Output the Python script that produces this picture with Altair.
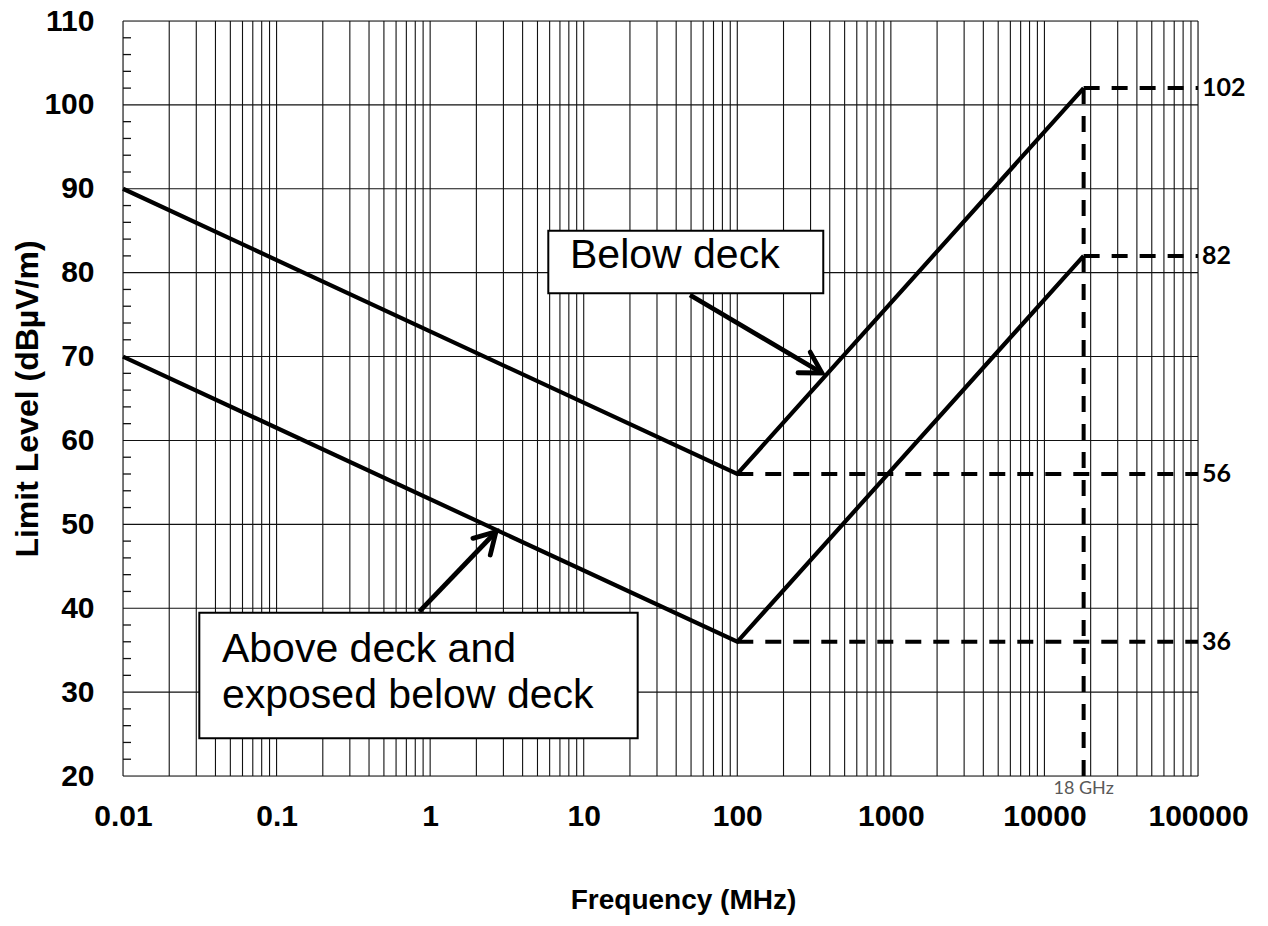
import altair as alt
import pandas as pd

# ---- data ----
freq_knots = [0.01, 100, 18000]
below_deck = [90, 56, 102]
above_deck = [70, 36, 82]

x_decades = [0.01, 0.1, 1, 10, 100, 1000, 10000, 100000]
x_grid = [round(m * 10 ** k, 6) for k in range(-2, 5) for m in range(1, 10)] + [100000]
y_major = [20, 30, 40, 50, 60, 70, 80, 90, 100, 110]
y_minor = [v for v in range(22, 110, 2) if v % 10 != 0]

right_levels = [102, 82, 56, 36]
right_start = [18000, 18000, 100, 100]
right_end = [100000, 100000, 100000, 100000]

vline_freq = [18000]
vline_lo = [20]
vline_hi = [102]

box_names = ["below", "above"]
box_f1 = [5.88, 0.0314]
box_f2 = [363.0, 22.46]
box_v1 = [85.0, 39.47]
box_v2 = [77.54, 24.49]

text_lines = ["Below deck", "Above deck and", "exposed below deck"]
text_f = [8.14, 0.0441, 0.0441]
text_v = [80.52, 33.63, 28.07]

arrow_f1 = [49.2, 0.850]
arrow_v1 = [77.34, 39.59]
arrow_f2 = [356.0, 2.684]
arrow_v2 = [68.04, 49.12]
arrow_ang = [120.6, 43.8]

# ---- tables ----
lines_df = pd.DataFrame({
    "f": freq_knots * 2,
    "v": below_deck + above_deck,
    "s": ["Below deck"] * 3 + ["Above deck"] * 3,
})
xgrid_df = pd.DataFrame({"f": x_grid})
ygrid_df = pd.DataFrame({"v": y_major})
yminor_df = pd.DataFrame({"v": y_minor})
hdash_df = pd.DataFrame({"f": right_start, "f2": right_end, "v": right_levels})
vdash_df = pd.DataFrame({"f": vline_freq, "v": vline_lo, "v2": vline_hi})
box_df = pd.DataFrame({"n": box_names, "f": box_f1, "f2": box_f2, "v": box_v1, "v2": box_v2})
text_df = pd.DataFrame({"t": text_lines, "f": text_f, "v": text_v})
arrow_df = pd.DataFrame({"f": arrow_f1, "v": arrow_v1, "f2": arrow_f2, "v2": arrow_v2, "ang": arrow_ang})
rlab_df = pd.DataFrame({"f": [x_decades[-1]] * 4, "v": right_levels, "t": [str(v) for v in right_levels]})
ghz_df = pd.DataFrame({"f": vline_freq, "v": [y_major[0]], "t": ["18 GHz"]})

xscale = alt.Scale(type="log", domain=[0.01, 100000], nice=False)
yscale = alt.Scale(domain=[20, 110], nice=False, zero=False)

FONT = "Liberation Sans"

xaxis = alt.Axis(
    values=x_decades, format="~g", grid=False, ticks=False, domain=False,
    labelFont=FONT, labelFontSize=30, labelFontWeight="bold", labelColor="black",
    labelPadding=25, labelFlush=False, labelOverlap=False,
    title="Frequency (MHz)", titleFont=FONT, titleFontSize=28, titleFontWeight="bold",
    titleColor="black", titleX=560, titleY=132, titleBaseline="alphabetic", titleAlign="center",
)
yaxis = alt.Axis(
    values=y_major, grid=False, ticks=False, domain=False,
    labelFont=FONT, labelFontSize=30, labelFontWeight="bold", labelColor="black",
    labelPadding=29, labelFlush=False, labelOverlap=False,
    title="Limit Level (dBµV/m)", titleFont=FONT, titleFontSize=32, titleFontWeight="bold",
    titleColor="black", titleX=-96, titleY=377.5, titleAngle=270,
    titleBaseline="middle", titleAlign="center",
)


def X(field="f"):
    return alt.X(field, type="quantitative", scale=xscale, axis=xaxis)


def Y(field="v"):
    return alt.Y(field, type="quantitative", scale=yscale, axis=yaxis)


vgrid = alt.Chart(xgrid_df).mark_rule(color="#111111", strokeWidth=1.1).encode(x=X())
hgrid = alt.Chart(ygrid_df).mark_rule(color="#111111", strokeWidth=1.1).encode(y=Y())
yminor = alt.Chart(yminor_df).mark_rule(color="#111111", strokeWidth=1.3).encode(
    y=Y(), x=alt.value(0), x2=alt.value(8)
)
hdash = alt.Chart(hdash_df).mark_rule(color="black", strokeWidth=4, strokeDash=[16, 12]).encode(
    x=X(), x2="f2", y=Y()
)
vdash = alt.Chart(vdash_df).mark_rule(color="black", strokeWidth=4, strokeDash=[16, 12]).encode(
    x=X(), y=Y(), y2="v2"
)
lines = alt.Chart(lines_df).mark_line(color="black", strokeWidth=4.2).encode(
    x=X(), y=Y(), detail="s:N"
)
boxes = alt.Chart(box_df).mark_rect(fill="white", stroke="black", strokeWidth=2).encode(
    x=X(), x2="f2", y=Y(), y2="v2"
)
texts = alt.Chart(text_df).mark_text(
    font=FONT, fontSize=41, align="left", baseline="alphabetic", color="black"
).encode(x=X(), y=Y(), text="t:N")
shafts = alt.Chart(arrow_df).mark_rule(color="black", strokeWidth=4.8).encode(
    x=X(), y=Y(), x2="f2", y2="v2"
)
heads = alt.Chart(arrow_df).mark_point(
    shape="M -0.5 0.866 L 0 0 L 0.5 0.866", size=2304, filled=False,
    stroke="black", strokeWidth=4.8, opacity=1, strokeCap="round", strokeJoin="miter"
).encode(
    x=alt.X("f2", type="quantitative", scale=xscale, axis=xaxis),
    y=alt.Y("v2", type="quantitative", scale=yscale, axis=yaxis),
    angle=alt.Angle("ang:Q", scale=None),
)
rlabels = alt.Chart(rlab_df).mark_text(
    font="Lato", fontSize=25, fontWeight="bold", align="left", baseline="middle", dx=4, color="black"
).encode(x=X(), y=Y(), text="t:N")
ghz = alt.Chart(ghz_df).mark_text(
    font="Lato", fontSize=18, align="center", baseline="middle", dy=13, color="#595959"
).encode(x=X(), y=Y(), text="t:N")

chart = alt.layer(
    vgrid, hgrid, yminor, hdash, vdash, lines, boxes, texts, shafts, heads, rlabels, ghz
).properties(
    width=1075, height=755,
    padding={"left": 115, "top": 13, "right": 60, "bottom": 140},
    autosize=alt.AutoSizeParams(type="none"),
).configure_view(stroke="black", strokeWidth=2.5).configure(background="white")

chart.save("out.html", embed_options={"renderer": "svg", "actions": False})
